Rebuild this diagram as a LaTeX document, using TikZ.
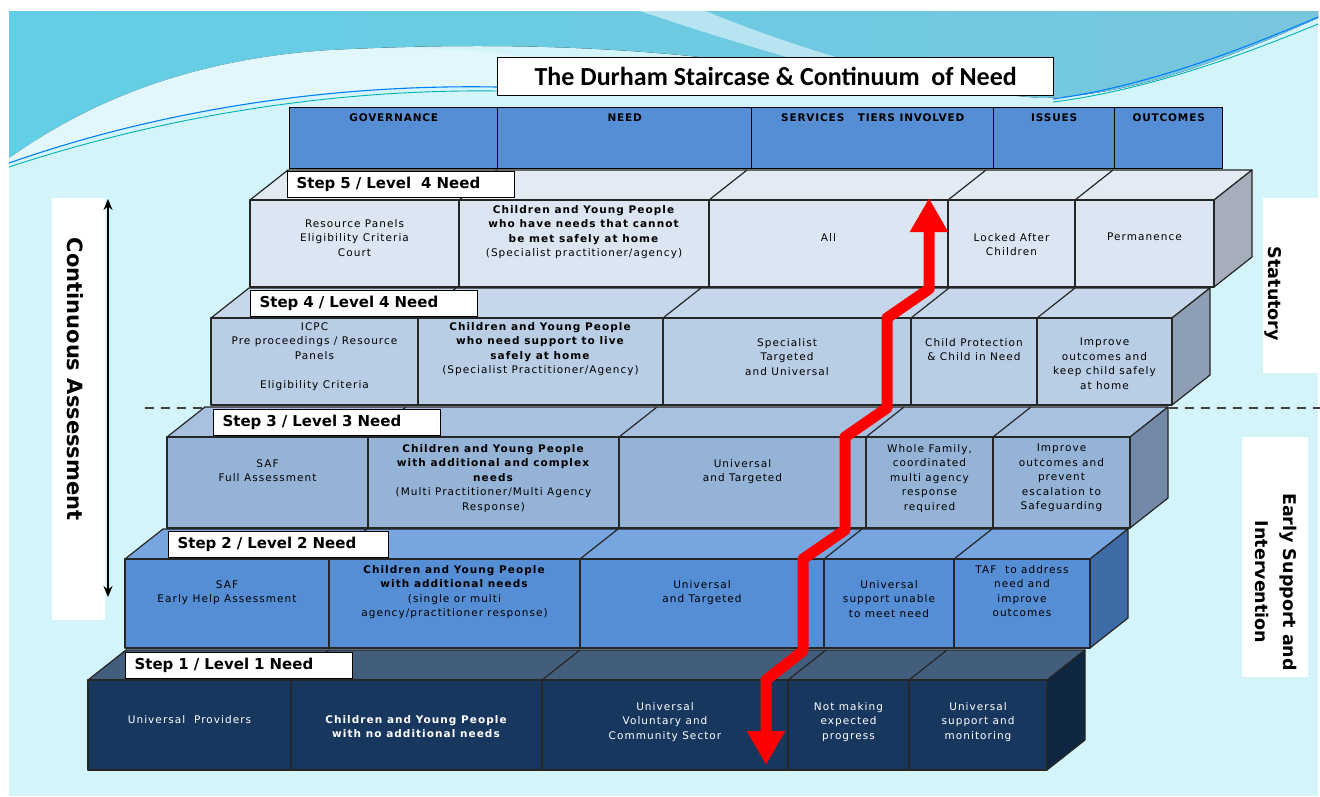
\documentclass[tikz,border=0pt]{standalone}
\usepackage{fontspec}
\setmainfont{DejaVu Sans}
\newfontfamily\cellf{DejaVu Sans}[LetterSpace=10]
\newfontfamily\headf{DejaVu Sans}[LetterSpace=8]
\newfontfamily\titlef{Carlito}
\usetikzlibrary{arrows.meta}

\definecolor{bg}{HTML}{D3F4F9}
\definecolor{waveA}{HTML}{62CFE6}
\definecolor{waveB}{HTML}{78C6DD}
\definecolor{hdr}{HTML}{558ED5}
\definecolor{front5}{HTML}{DCE6F2}
\definecolor{top5}{HTML}{E2EAF4}
\definecolor{side5}{HTML}{A7AEBB}
\definecolor{front4}{HTML}{B9CDE5}
\definecolor{top4}{HTML}{C6D7EB}
\definecolor{side4}{HTML}{8E9EB4}
\definecolor{front3}{HTML}{95B3D7}
\definecolor{top3}{HTML}{A9C1E0}
\definecolor{side3}{HTML}{7489A8}
\definecolor{front2}{HTML}{558ED5}
\definecolor{top2}{HTML}{77A5DF}
\definecolor{side2}{HTML}{3E6CA7}
\definecolor{front1}{HTML}{17375E}
\definecolor{top1}{HTML}{435D7D}
\definecolor{side1}{HTML}{0F2641}

\tikzset{
  edge/.style={draw=black!85, line width=1.2pt, line join=round},
  cellbox/.style={edge, rectangle, anchor=north west, inner sep=0pt, outer sep=0pt},
  cellt/.style={font=\cellf\fontsize{10.5}{14.5}\selectfont, align=center, anchor=north, inner sep=0pt},
  whitet/.style={cellt, text=white},
  hdrbox/.style={draw=black, line width=1.4pt, fill=hdr, rectangle, anchor=north west, minimum height=61pt, inner sep=0pt},
  hdrt/.style={font=\headf\bfseries\fontsize{10.5}{12}\selectfont, anchor=north, inner sep=0pt},
  steplab/.style={draw=black, line width=1.2pt, fill=white, anchor=north west, minimum width=227pt, minimum height=26pt,
    text width=209pt, inner xsep=9pt, inner ysep=0pt, align=left, font=\bfseries\fontsize{15}{17}\selectfont},
  sidebox/.style={fill=white, rectangle, anchor=north west, inner sep=0pt},
  sidet/.style={font=\bfseries\fontsize{17.5}{28}\selectfont, rotate=-90, align=center, inner sep=0pt}
}

\begin{document}
\begin{tikzpicture}[x=1pt,y=-1pt]
\useasboundingbox (0,0) rectangle (1320,796);
\fill[white] (0,0) rectangle (1320,796);
\fill[bg] (9,11) rectangle (1318,796);
% background waves
\fill[left color=waveA, right color=waveB] (9,11) -- (1318,11) -- (1318,18)
  .. controls (1220,62) and (1130,96) .. (1040,98) -- (860,82)
  .. controls (700,48) and (520,40) .. (330,50)
  .. controls (170,60) and (70,115) .. (9,158) -- cycle;
\fill[white, opacity=0.5] (640,11) -- (705,11) .. controls (765,35) and (830,58) .. (895,72)
  -- (880,82) .. controls (800,62) and (720,38) .. (640,11) -- cycle;
\fill[white, opacity=0.35] (9,158) .. controls (70,115) and (170,60) .. (330,50)
  .. controls (420,46) and (480,50) .. (520,56) -- (497,86) .. controls (330,84) and (160,110) .. (9,163) -- cycle;
\draw[color=blue!50!cyan, line width=1.1pt] (9,163) .. controls (160,110) and (330,84) .. (497,87);
\draw[color=teal!60!cyan, line width=0.9pt] (9,167) .. controls (170,114) and (340,89) .. (497,91);
\draw[color=blue!50!cyan, line width=1.1pt] (1053,99) .. controls (1150,86) and (1250,46) .. (1318,17);
\draw[color=teal!60!cyan, line width=0.9pt] (1053,102) .. controls (1150,90) and (1250,52) .. (1318,24);

% dashed divider
\coordinate (dl1) at (145,408);
\coordinate (dl2) at (1320,408);
\draw[black!75, line width=1.5pt, dash pattern=on 9pt off 7pt] (dl1) -- (dl2);

% title
\node[draw=black, line width=1.4pt, fill=white, anchor=north west, minimum width=556pt, minimum height=38pt, inner sep=0pt] (titlebox) at (497,57) {};
\node[font=\titlef\bfseries\fontsize{26}{30}\selectfont, inner sep=0pt] (title) at (titlebox.center) {The Durham Staircase \& Continuum\ \ of Need};

% header
\node[hdrbox, minimum width=208pt] (h1) at (289,107) {};
\node[hdrbox, minimum width=254pt] (h2) at (497,107) {};
\node[hdrbox, minimum width=242pt] (h3) at (751,107) {};
\node[hdrbox, minimum width=121pt] (h4) at (993,107) {};
\node[hdrbox, minimum width=108pt] (h5) at (1114,107) {};
\node[hdrt] (ht1) at (h1.north |- 0,114) {GOVERNANCE};
\node[hdrt] (ht2) at (h2.north |- 0,114) {NEED};
\node[hdrt] (ht3) at (h3.north |- 0,114) {SERVICES\ \ \ TIERS INVOLVED};
\node[hdrt] (ht4) at (h4.north |- 0,114) {ISSUES};
\node[hdrt] (ht5) at (h5.north |- 0,114) {OUTCOMES};

% steps
\foreach \id/\ty/\by/\xa/\xb/\xc/\xd/\xe/\xf in {
  5/200/287/250/459/709/948/1075/1214,
  4/318/405/211/418/663/911/1037/1172,
  3/437/528/167/368/619/866/993/1130,
  2/559/648/125/329/580/824/954/1090,
  1/680/770/88/291/542/788/909/1047}{
  \filldraw[edge, fill=top\id] (\xa,\ty) -- (\xa+38,\ty-30) -- (\xf+38,\ty-30) -- (\xf,\ty) -- cycle;
  \filldraw[edge, fill=side\id] (\xf,\ty) -- (\xf+38,\ty-30) -- (\xf+38,\by-30) -- (\xf,\by) -- cycle;
  \foreach \u in {\xb,\xc,\xd,\xe} \draw[edge] (\u,\ty) -- (\u+38,\ty-30);
  \node[cellbox, fill=front\id, minimum width=\xb-\xa, minimum height=\by-\ty] (s\id-1) at (\xa,\ty) {};
  \node[cellbox, fill=front\id, minimum width=\xc-\xb, minimum height=\by-\ty] (s\id-2) at (\xb,\ty) {};
  \node[cellbox, fill=front\id, minimum width=\xd-\xc, minimum height=\by-\ty] (s\id-3) at (\xc,\ty) {};
  \node[cellbox, fill=front\id, minimum width=\xe-\xd, minimum height=\by-\ty] (s\id-4) at (\xd,\ty) {};
  \node[cellbox, fill=front\id, minimum width=\xf-\xe, minimum height=\by-\ty] (s\id-5) at (\xe,\ty) {};
}

% step labels
\node[steplab] (l5) at (287,171) {Step 5 / Level\ \ 4 Need};
\node[steplab] (l4) at (250,290) {Step 4 / Level 4 Need};
\node[steplab] (l3) at (213,409) {Step 3 / Level 3 Need};
\node[steplab, minimum width=220pt, text width=202pt] (l2) at (168,531) {Step 2 / Level 2 Need};
\node[steplab] (l1) at (125,652) {Step 1 / Level 1 Need};

% step 5 texts
\node[cellt] (t5-1) at (s5-1.north |- 0,219) {Resource Panels\\Eligibility Criteria\\Court};
\node[cellt] (t5-2) at (s5-2.north |- 0,205) {\textbf{Children and Young People}\\\textbf{who have needs that cannot}\\\textbf{be met safely at home}\\(Specialist practitioner/agency)};
\node[cellt] (t5-3) at (s5-3.north |- 0,233) {All};
\node[cellt] (t5-4) at (s5-4.north |- 0,233) {Locked After\\Children};
\node[cellt] (t5-5) at (s5-5.north |- 0,233) {Permanence};
% step 4 texts
\node[cellt] (t4-1) at (s4-1.north |- 0,322) {ICPC\\Pre proceedings / Resource\\Panels\\[14.5pt]Eligibility Criteria};
\node[cellt] (t4-2) at (s4-2.north |- 0,322) {\textbf{Children and Young People}\\\textbf{who need support to live}\\\textbf{safely at home}\\(Specialist Practitioner/Agency)};
\node[cellt] (t4-3) at (s4-3.north |- 0,338) {Specialist\\Targeted\\and Universal};
\node[cellt] (t4-4) at (s4-4.north |- 0,338) {Child Protection\\\& Child in Need};
\node[cellt] (t4-5) at (s4-5.north |- 0,338) {Improve\\outcomes and\\keep child safely\\at home};
% step 3 texts
\node[cellt] (t3-1) at (s3-1.north |- 0,459) {SAF\\Full Assessment};
\node[cellt] (t3-2) at (s3-2.north |- 0,444) {\textbf{Children and Young People}\\\textbf{with additional and complex}\\\textbf{needs}\\(Multi Practitioner/Multi Agency\\Response)};
\node[cellt] (t3-3) at (s3-3.north |- 0,459) {Universal\\and Targeted};
\node[cellt] (t3-4) at (s3-4.north |- 0,444) {Whole Family,\\coordinated\\multi agency\\response\\required};
\node[cellt] (t3-5) at (s3-5.north |- 0,444) {Improve\\outcomes and\\prevent\\escalation to\\Safeguarding};
% step 2 texts
\node[cellt] (t2-1) at (s2-1.north |- 0,580) {SAF\\Early Help Assessment};
\node[cellt] (t2-2) at (s2-2.north |- 0,565) {\textbf{Children and Young People}\\\textbf{with additional needs}\\(single or multi\\agency/practitioner response)};
\node[cellt] (t2-3) at (s2-3.north |- 0,580) {Universal\\and Targeted};
\node[cellt] (t2-4) at (s2-4.north |- 0,580) {Universal\\support unable\\to meet need};
\node[cellt] (t2-5) at (s2-5.north |- 0,565) {TAF\ \ to address\\need and\\improve\\outcomes};
% step 1 texts
\node[whitet] (t1-1) at (s1-1.north |- 0,715) {Universal\ \ Providers};
\node[whitet] (t1-2) at (s1-2.north |- 0,715) {\textbf{Children and Young People}\\\textbf{with no additional needs}};
\node[whitet] (t1-3) at (s1-3.north |- 0,702) {Universal\\Voluntary and\\Community Sector};
\node[whitet] (t1-4) at (s1-4.north |- 0,702) {Not making\\expected\\progress};
\node[whitet] (t1-5) at (s1-5.north |- 0,702) {Universal\\support and\\monitoring};

% red arrow
\coordinate (r0) at (766,765);
\coordinate (r1) at (766,680);
\coordinate (r2) at (803,651);
\coordinate (r3) at (803,559);
\coordinate (r4) at (845,530);
\coordinate (r5) at (845,437);
\coordinate (r6) at (887,408);
\coordinate (r7) at (887,318);
\coordinate (r8) at (929,289);
\coordinate (r9) at (929,198);
\draw[red, line width=11pt, line join=round,
  {Triangle[length=34pt,width=36pt]}-{Triangle[length=34pt,width=36pt]}]
  (r0) -- (r1) -- (r2) -- (r3) -- (r4) -- (r5) -- (r6) -- (r7) -- (r8) -- (r9);

% left side label
\node[sidebox, minimum width=53pt, minimum height=422pt] (cabox) at (52,198) {};
\node[sidet, font=\bfseries\fontsize{21}{25}\selectfont] (catext) at (75,379) {Continuous Assessment};
\coordinate (ca1) at (108,199);
\coordinate (ca2) at (108,597);
\draw[black, line width=2.2pt, {Stealth[length=11pt,width=9pt]}-{Stealth[length=11pt,width=9pt]}] (ca1) -- (ca2);

% right side labels
\node[sidebox, minimum width=55pt, minimum height=175pt] (stbox) at (1263,198) {};
\node[sidet] (sttext) at (1273,294) {Statutory};
\node[sidebox, minimum width=66pt, minimum height=240pt] (esbox) at (1242,437) {};
\node[sidet] (estext) at (1276,582) {Early Support and\\Intervention};
\end{tikzpicture}
\end{document}
